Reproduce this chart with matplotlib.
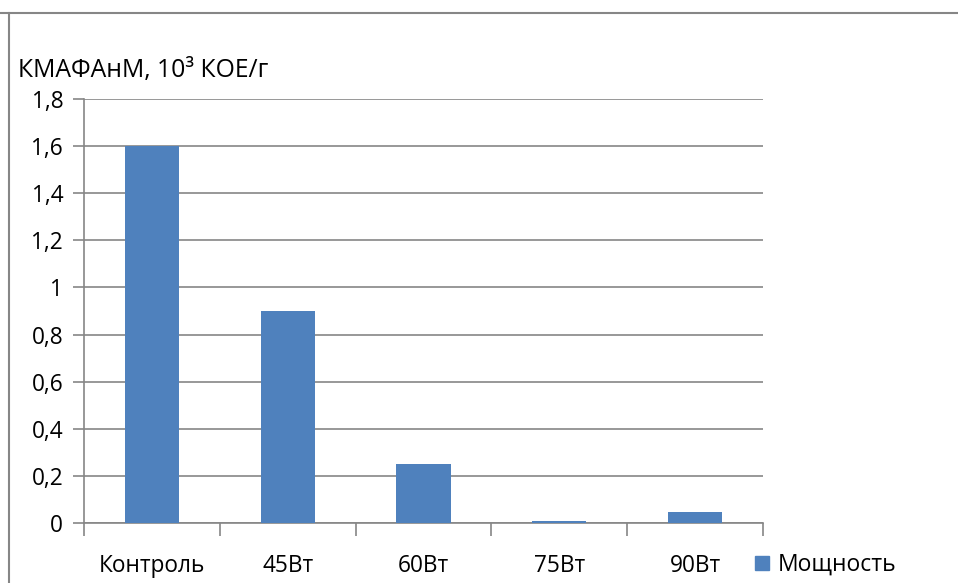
import matplotlib
matplotlib.use("Agg")
import matplotlib.pyplot as plt
from matplotlib.lines import Line2D

categories = ["Контроль", "45Вт", "60Вт", "75Вт", "90Вт"]
values = [1.6, 0.9, 0.25, 0.008, 0.045]
yticks = [0, 0.2, 0.4, 0.6, 0.8, 1.0, 1.2, 1.4, 1.6, 1.8]
ytick_labels = ["0", "0,2", "0,4", "0,6", "0,8", "1", "1,2", "1,4", "1,6", "1,8"]
series_name = "Мощность"
ylabel = "КМАФАнМ, 10³ КОЕ/г"

plt.rcParams['font.family'] = ['Open Sans', 'DejaVu Sans']
W, H = 958, 583
fig = plt.figure(figsize=(W/100, H/100), dpi=100)
ax = fig.add_axes([84/W, (H-523)/H, (763-84)/W, (523-99)/H])

grey = "#868686"
x = list(range(len(categories)))
ax.bar(x, values, width=0.4, color="#4F81BD", zorder=3, label=series_name)
ax.set_xlim(-0.5, len(categories) - 0.5)
ax.set_ylim(0, 1.8)
ax.set_yticks(yticks)
ax.set_yticklabels(ytick_labels, fontsize=16.3)
ax.yaxis.grid(True, color=grey, linewidth=1.2, zorder=0)
ax.set_xticks([i - 0.5 for i in range(len(categories) + 1)])
ax.set_xticklabels([])
ax.set_xticks(x, minor=True)
ax.set_xticklabels(categories, minor=True, fontsize=16.3)
ax.tick_params(axis='x', which='minor', length=0, pad=22)
ax.tick_params(axis='x', which='major', length=9, color=grey, width=1.2)
ax.tick_params(axis='y', length=8, color=grey, width=1.2, pad=7)
for s in ["top", "right"]:
    ax.spines[s].set_visible(False)
for s in ["left", "bottom"]:
    ax.spines[s].set_color(grey)
    ax.spines[s].set_linewidth(1.2)

fig.text(18/W, 1 - 70/H, ylabel, fontsize=17.8, va="center", ha="left")

leg = fig.legend(handles=[plt.Rectangle((0, 0), 1, 1, color="#4F81BD")],
                 labels=[series_name], loc="center left",
                 bbox_to_anchor=(755/W, 1 - 565/H), frameon=False, fontsize=16.5,
                 handlelength=0.6, handleheight=0.6, handletextpad=0.4,
                 borderaxespad=0, borderpad=0)

fig.add_artist(Line2D([0, 1], [1 - 13/H, 1 - 13/H], transform=fig.transFigure,
                      color=grey, linewidth=1.5))
fig.add_artist(Line2D([8.5/W, 8.5/W], [0, 1 - 13/H], transform=fig.transFigure,
                      color=grey, linewidth=1.5))

fig.savefig("out.png", dpi=100)
